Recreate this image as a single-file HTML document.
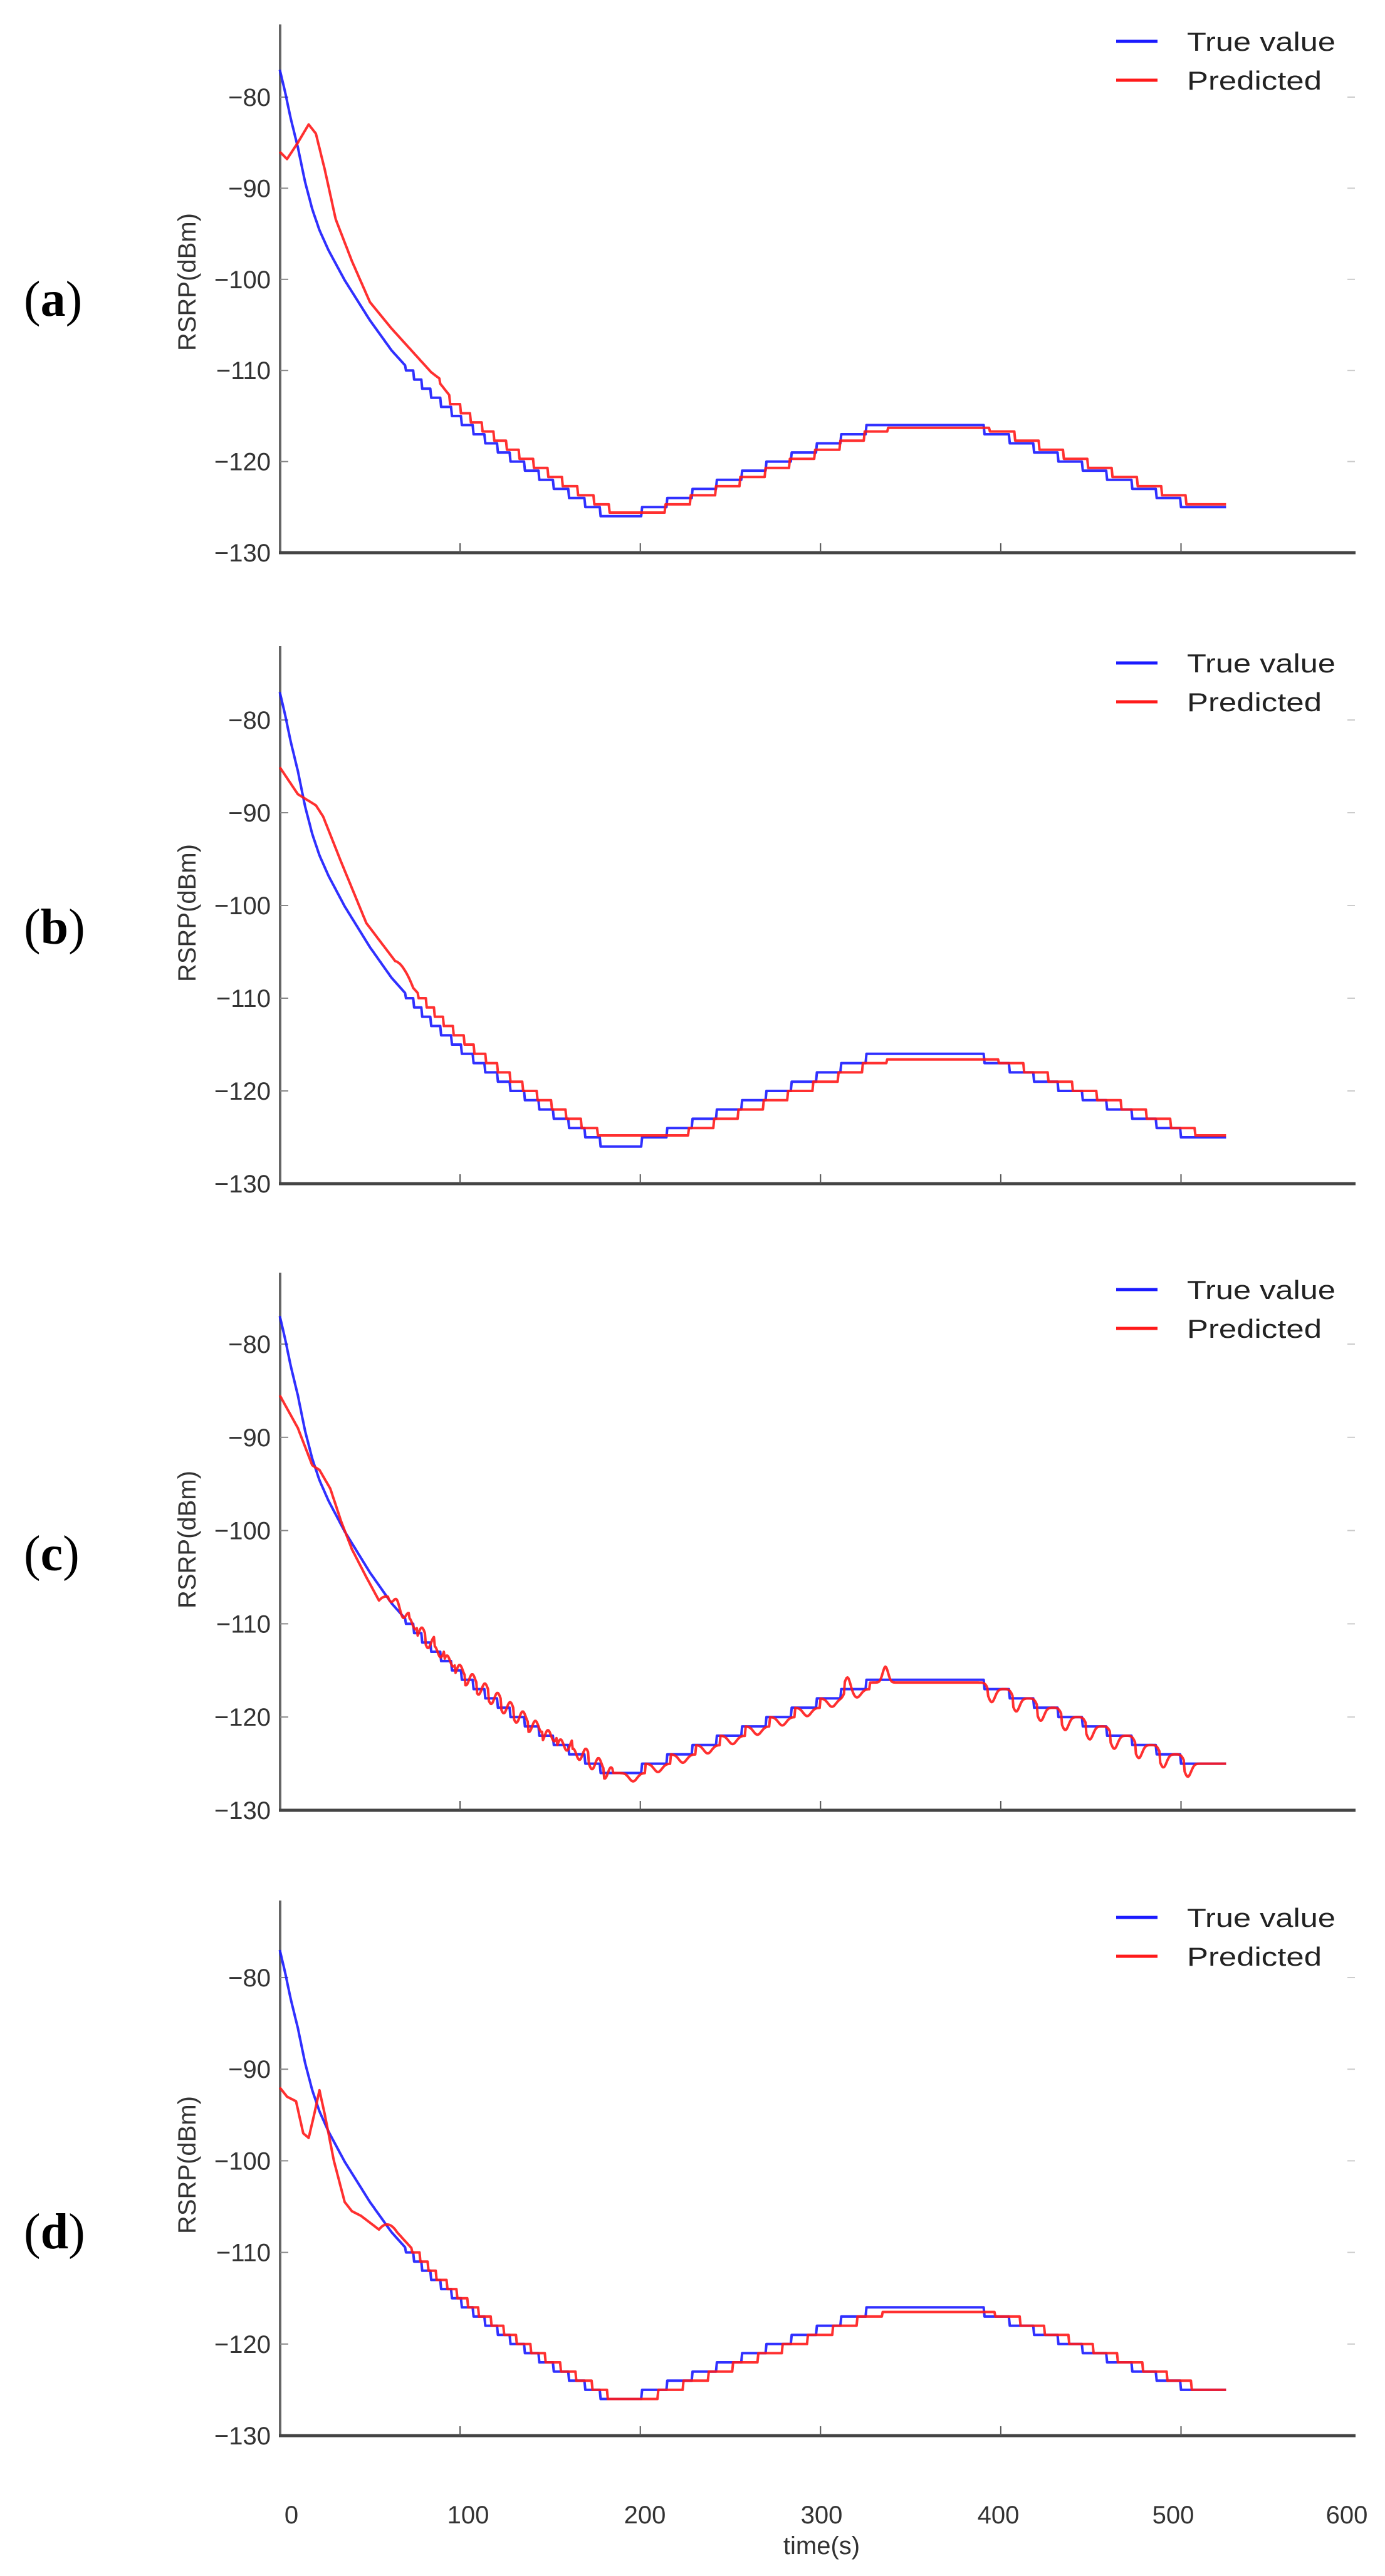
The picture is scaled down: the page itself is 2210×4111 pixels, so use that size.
<!DOCTYPE html>
<html><head><meta charset="utf-8">
<style>
html,body{margin:0;padding:0;background:#fff;}
svg{display:block;}
</style></head>
<body>
<svg id="s" xmlns="http://www.w3.org/2000/svg" width="2210" height="4111" viewBox="0 0 2210 4111">
<rect width="2210" height="4111" fill="#fff"/>
<g id="g"></g>
</svg>
<script>
(function(){
var NS="http://www.w3.org/2000/svg";
var G=document.getElementById('g');
function el(n,a,txt){var e=document.createElementNS(NS,n);for(var k in a)e.setAttribute(k,a[k]);if(txt!==undefined)e.textContent=txt;G.appendChild(e);return e;}
function interp(A,t){if(t<=A[0][0])return A[0][1];for(var i=1;i<A.length;i++){if(t<=A[i][0]){var a=A[i-1],b=A[i];return a[1]+(b[1]-a[1])*(t-a[0])/(b[0]-a[0]);}}return A[A.length-1][1];}
var BA=[[0,-77],[3,-79.5],[6,-82.3],[10,-85.5],[14,-89.3],[18,-92.3],[22,-94.6],[27,-96.8],[36,-100.1],[50,-104.5],[62,-107.8],[84,-112.6],[105,-116.2],[127,-119.4],[150,-122.3],[170,-124.6],[182,-126]];
function B(t){
 if(t<0)t=0;
 if(t<182){var s=interp(BA,t);if(t>=70)s=Math.round(s);return Math.max(s,-126);}
 if(t<201)return -126;
 if(t<391){return Math.min(-116,-125+Math.floor((t-201)/13.8));}
 return Math.max(-125,-117-Math.floor((t-391)/13.6));
}
function g(x,s){return Math.exp(-x*x/(2*s*s));}
var panels=[
 {y80:155,y130:882,top:39,lab:'a',labY:478,
  RA:[[0,-86],[4,-86.8],[10,-85],[16,-83],[20,-84],[25,-88],[31,-93.4],[40,-98],[50,-102.5],[62,-105.4],[84,-110.2]],tA:84,
  lag:[[84,5],[185,5],[200,13],[330,13],[390,3],[600,3]],off:0.3,lo:-125.6,hi:-116.3},
 {y80:1149,y130:1889,top:1031,lab:'b',labY:1480,
  RA:[[0,-85.1],[10,-88],[20,-89.2],[24,-90.4],[34,-95.3],[48,-101.9],[64,-106]],tA:64,
  lag:[[64,7],[185,7],[205,12],[330,12],[390,8],[600,8]],off:0,lo:-124.8,hi:-116.6},
 {y80:2145,y130:2889,top:2031,lab:'c',labY:2480,
  RA:[[0,-85.5],[10,-89],[18,-93],[22,-93.5],[28,-95.5],[34,-99],[40,-102],[48,-105],[55,-107.5]],tA:55,
  lag:[[0,2],[600,2]],off:0,lo:-126.3,hi:-116.3,wig:true},
 {y80:3156,y130:3887,top:3033,lab:'d',labY:3562,
  RA:[[0,-92],[4,-93],[9,-93.5],[13,-97],[16,-97.5],[19,-95],[22,-92.3],[25,-95],[30,-100],[36,-104.5],[40,-105.5],[45,-106],[55,-107.5]],tA:55,
  lag:[[55,3],[185,4],[205,9],[330,9],[390,6],[600,6]],off:0,lo:-126,hi:-116.5}
];
var X0=446.5,XS=2.876;
function px(t){return X0+XS*t;}
panels.forEach(function(P){
 var sc=(P.y130-P.y80)/50;
 function py(v){return P.y80+(-80-v)*sc;}
 function R(t){
  var lg=interp(P.lag,t);
  var v=B(t-lg)+P.off;
  if(t>150&&v<P.lo)v=P.lo;
  if(t>250&&v>P.hi)v=P.hi;
  if(P.wig){
   if(t>60&&t<185) v+=0.6*Math.sin(2*Math.PI*t/7);
   for(var k=0;k<10;k++){var ts=201+13.8*k; v+=-0.9*g(t-ts+5,2.2);}
   for(var k=0;k<9;k++){var ts=391+13.6*k; v+=-1.4*g(t-ts-4,1.8);}
   v+=1.3*g(t-315,1.5)+1.7*g(t-336,1.5);
  }
  if(t<P.tA)return interp(P.RA,t);
  if(t<P.tA+10){var w=(t-P.tA)/10;return interp(P.RA,P.tA)*(1-w)+v*w;}
  return v;
 }
 el('line',{x1:447,y1:P.top,x2:447,y2:P.y130,stroke:'#666','stroke-width':4});
 el('line',{x1:445,y1:P.y130,x2:2163,y2:P.y130,stroke:'#444','stroke-width':5});
 for(var v=-80;v>=-130;v-=10){
  var y=py(v);
  if(v>-130){el('line',{x1:447,y1:y,x2:460,y2:y,stroke:'#888','stroke-width':2});
  el('line',{x1:2150,y1:y,x2:2162,y2:y,stroke:'#ccc','stroke-width':2});}
  el('text',{x:432,y:y+14,'text-anchor':'end','font-family':'Liberation Sans, sans-serif','font-size':40,fill:'#333'},'\u2212'+(-v));
 }
 for(var i=1;i<=5;i++){var x=px(i*100);el('line',{x1:x,y1:P.y130,x2:x,y2:P.y130-15,stroke:'#555','stroke-width':2});}
 var yl=P.y130-432;
 el('text',{x:0,y:0,transform:'translate(312,'+yl+') rotate(-90)','text-anchor':'middle','font-family':'Liberation Sans, sans-serif','font-size':40,fill:'#333'},'RSRP(dBm)');
 var t=el('text',{x:38,y:P.labY+26,'font-family':'Liberation Serif, serif','font-size':80,fill:'#000'});
 var s1=document.createElementNS(NS,'tspan');s1.textContent='(';t.appendChild(s1);
 var s2=document.createElementNS(NS,'tspan');s2.setAttribute('font-weight','bold');s2.textContent=P.lab;t.appendChild(s2);
 var s3=document.createElementNS(NS,'tspan');s3.textContent=')';t.appendChild(s3);
 var db='',dr='';
 for(var tt=0;tt<=525;tt+=0.5){
  var x=px(tt).toFixed(1);
  db+=(tt?'L':'M')+x+' '+py(B(tt)).toFixed(1);
  dr+=(tt?'L':'M')+x+' '+py(R(tt)).toFixed(1);
 }
 el('path',{d:db,fill:'none',stroke:'#1a1aff','stroke-width':4,'stroke-linejoin':'round','stroke-opacity':0.9});
 el('path',{d:dr,fill:'none',stroke:'#ff1a1a','stroke-width':4,'stroke-linejoin':'round','stroke-opacity':0.9});
 var ly1=P.top+27,ly2=P.top+89;
 el('line',{x1:1781,y1:ly1,x2:1847,y2:ly1,stroke:'#1a1aff','stroke-width':5});
 el('line',{x1:1781,y1:ly2,x2:1847,y2:ly2,stroke:'#ff1a1a','stroke-width':5});
 el('text',{x:1894,y:ly1+15,'font-family':'Liberation Sans, sans-serif','font-size':42,fill:'#222',textLength:237,lengthAdjust:'spacingAndGlyphs'},'True value');
 el('text',{x:1894,y:ly2+15,'font-family':'Liberation Sans, sans-serif','font-size':42,fill:'#222',textLength:215,lengthAdjust:'spacingAndGlyphs'},'Predicted');
});
var xl=[465,747,1029,1311,1593,1872,2149];
for(var i=0;i<7;i++)el('text',{x:xl[i],y:4027,'text-anchor':'middle','font-family':'Liberation Sans, sans-serif','font-size':40,fill:'#333'},String(i*100));
el('text',{x:1311,y:4076,'text-anchor':'middle','font-family':'Liberation Sans, sans-serif','font-size':40,fill:'#333'},'time(s)');
})();
</script>
</body></html>
